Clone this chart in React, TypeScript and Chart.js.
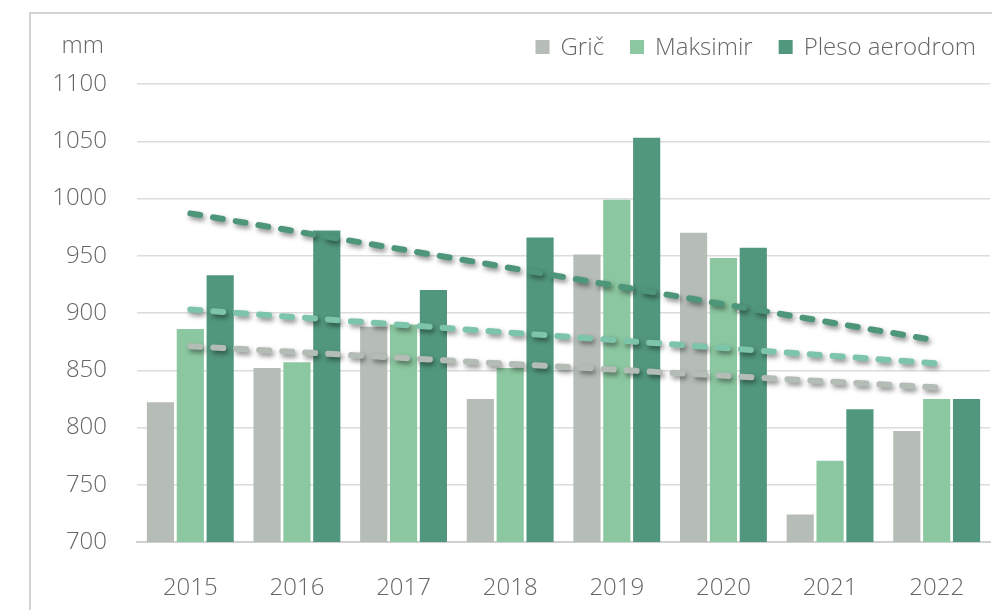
import React, { useEffect, useRef } from "react";
import { Chart, registerables } from "chart.js";

Chart.register(...registerables);

const categories = ["2015", "2016", "2017", "2018", "2019", "2020", "2021", "2022"];
const gric = [822, 852, 888, 825, 951, 970, 724, 797];
const maksimir = [886, 857, 890, 852, 999, 948, 771, 825];
const pleso = [933, 972, 920, 966, 1053, 957, 816, 825];
const gricTrend = [871, null, null, null, null, null, null, 835];
const maksimirTrend = [903, null, null, null, null, null, null, 856];
const plesoTrend = [987, null, null, null, null, null, null, 876];
const yMin = 700;
const yMax = 1100;
const yStep = 50;
const unitLabel = "mm";

const FONT = "'Open Sans', 'Noto Sans', sans-serif";
const TEXT = "#666666";

const shadowPlugin = {
  id: "lineShadow",
  beforeDatasetDraw(chart: any, args: any) {
    const ds = chart.data.datasets[args.index];
    if (ds.type === "line") {
      const ctx = chart.ctx;
      ctx.save();
      ctx.shadowColor = "rgba(0,0,0,0.45)";
      ctx.shadowBlur = 5;
      ctx.shadowOffsetX = 2;
      ctx.shadowOffsetY = 3;
    }
  },
  afterDatasetDraw(chart: any, args: any) {
    const ds = chart.data.datasets[args.index];
    if (ds.type === "line") chart.ctx.restore();
  },
};

const decorPlugin = {
  id: "decor",
  afterDraw(chart: any) {
    const ctx = chart.ctx;
    ctx.save();
    ctx.font = `300 24px ${FONT}`;
    ctx.fillStyle = TEXT;
    ctx.textBaseline = "middle";
    ctx.textAlign = "right";
    ctx.fillText(unitLabel, 104, 46);
    const items = chart.data.datasets.filter((d: any) => d.type !== "line");
    const box = 14;
    const boxGap = 11;
    const itemGap = 26;
    let x = 976;
    ctx.textAlign = "left";
    const widths = items.map((d: any) => ctx.measureText(d.label).width);
    const positions: number[] = [];
    for (let i = items.length - 1; i >= 0; i--) {
      x -= widths[i];
      positions[i] = x;
      x -= boxGap + box + itemGap;
    }
    items.forEach((d: any, i: number) => {
      const tx = positions[i];
      ctx.fillStyle = d.backgroundColor;
      ctx.fillRect(tx - boxGap - box, 46 - box / 2 + 1, box, box);
      ctx.fillStyle = TEXT;
      ctx.fillText(d.label, tx, 48);
    });
    ctx.restore();
  },
};

const trend = (label: string, data: any, color: string) => ({
  type: "line",
  label,
  data,
  borderColor: color,
  borderWidth: 6,
  borderDash: [10, 13],
  borderCapStyle: "round",
  pointRadius: 0,
  spanGaps: true,
  fill: false,
  order: 0,
});

export default function App() {
  const ref = useRef<HTMLCanvasElement>(null);
  useEffect(() => {
    if (!ref.current) return;
    const chart = new Chart(ref.current, {
      type: "bar",
      data: {
        labels: categories,
        datasets: [
          { type: "bar", label: "Grič", data: gric, backgroundColor: "#b6bdb7", order: 1 },
          { type: "bar", label: "Maksimir", data: maksimir, backgroundColor: "#8bc7a0", order: 1 },
          { type: "bar", label: "Pleso aerodrom", data: pleso, backgroundColor: "#51977d", order: 1 },
          trend("Grič trend", gricTrend, "#b4bcb6"),
          trend("Maksimir trend", maksimirTrend, "#7cc4aa"),
          trend("Pleso trend", plesoTrend, "#4d967a"),
        ] as any,
      },
      options: {
        responsive: false,
        animation: false,
        layout: { padding: { top: 84, left: 0, right: 2, bottom: 0 } },
        datasets: { bar: { categoryPercentage: 0.84, barPercentage: 0.91 } } as any,
        plugins: { legend: { display: false }, tooltip: { enabled: false } },
        scales: {
          x: {
            grid: { display: false },
            border: { display: true, color: "#d0d0d0", width: 2 },
            ticks: { color: TEXT, font: { family: FONT, size: 24, weight: 300 }, padding: 24, maxRotation: 0 },
            afterFit: (s: any) => { s.height = 68; },
          },
          y: {
            min: yMin,
            max: yMax,
            ticks: {
              stepSize: yStep,
              color: TEXT,
              font: { family: FONT, size: 24, weight: 300 },
              padding: 30,
              callback: (v: any) => String(v),
            },
            grid: { color: "#dcdcdc", lineWidth: 1.5, drawTicks: false },
            border: { display: false },
            afterFit: (s: any) => { s.width = 137; },
          },
        },
      } as any,
      plugins: [shadowPlugin, decorPlugin],
    });
    return () => chart.destroy();
  }, []);
  return (
    <div style={{ position: "fixed", left: 0, top: 0, width: 992, height: 610, background: "#fff" }}>
      <div
        style={{
          position: "absolute", left: 29, top: 12, width: 1000, height: 700,
          borderLeft: "2px solid #d4d4d4", borderTop: "2px solid #d4d4d4",
        }}
      />
      <canvas ref={ref} width={992} height={610} style={{ position: "absolute", left: 0, top: 0 }} />
    </div>
  );
}
